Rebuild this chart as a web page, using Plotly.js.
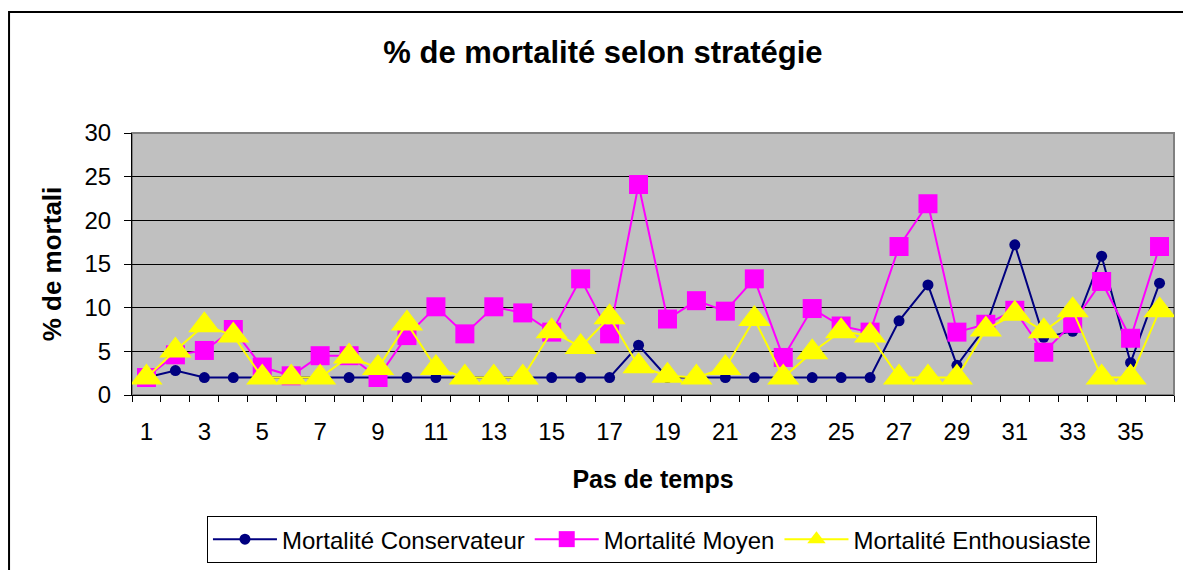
<!DOCTYPE html>
<html>
<head>
<meta charset="utf-8">
<script src="https://cdn.plot.ly/plotly-3.0.1.min.js"></script>
<style>html,body{margin:0;padding:0;background:#fff;}#chart{width:1183px;height:570px;}</style>
</head>
<body>
<div id="chart"></div>
<script>
var steps = [1,2,3,4,5,6,7,8,9,10,11,12,13,14,15,16,17,18,19,20,21,22,23,24,25,26,27,28,29,30,31,32,33,34,35,36];
var conservateur = [2,2.8,2,2,2,2,2,2,2,2,2,2,2,2,2,2,2,5.7,2,2,2,2,2,2,2,2,8.5,12.6,3.4,7.8,17.2,6.6,7.3,15.9,3.7,12.8];
var moyen = [2,4.6,5.1,7.5,3.2,2.2,4.5,4.5,2,6.8,10.1,7,10.1,9.4,7.2,13.3,7,24.1,8.7,10.8,9.6,13.3,4.3,9.9,7.9,7.2,17,21.9,7.2,8.1,9.7,4.9,8.2,13,6.5,17];
var enthousiaste = [2,5.1,8,6.8,2,2,2,4.4,3.1,8.2,3.1,2,2,2,7.3,5.5,8.9,3.3,2.2,2,3.1,8.7,2,4.9,7.3,6.8,2,2,2,7.5,9.3,7.3,9.7,2,2,9.7];
var xTickVals = [1,3,5,7,9,11,13,15,17,19,21,23,25,27,29,31,33,35];
var xTickText = ['1','3','5','7','9','11','13','15','17','19','21','23','25','27','29','31','33','35'];
var yTickVals = [0,5,10,15,20,25,30];
var seriesNames = ['Mortalité Conservateur','Mortalité Moyen','Mortalité Enthousiaste'];

var FONT = 'Arial, "Liberation Sans", sans-serif';

var traces = [
  {x: steps, y: conservateur, name: seriesNames[0], type: 'scatter', mode: 'lines+markers',
   line: {color: '#000080', width: 2}, marker: {symbol: 'circle', size: 11, color: '#000080'}},
  {x: steps, y: moyen, name: seriesNames[1], type: 'scatter', mode: 'lines+markers',
   line: {color: '#FF00FF', width: 2}, marker: {symbol: 'square', size: 19, color: '#FF00FF'}},
  {x: steps, y: enthousiaste, name: seriesNames[2], type: 'scatter', mode: 'lines+markers',
   line: {color: '#FFFF00', width: 2}, marker: {symbol: 'triangle-up', size: 28, color: '#FFFF00'}}
];

var layout = {
  width: 1183, height: 570,
  margin: {l: 132, r: 9, t: 133, b: 175, pad: 0, autoexpand: false},
  paper_bgcolor: '#ffffff',
  plot_bgcolor: '#C0C0C0',
  font: {family: FONT, color: '#000', size: 24},
  showlegend: true,
  title: {text: '% de mortalité selon stratégie', font: {family: FONT, size: 31, color: '#000', weight: 'bold'},
          x: 0.452, xref: 'paper', xanchor: 'center', y: 0.908, yanchor: 'middle'},
  xaxis: {
    range: [0.5, 36.5], tickmode: 'array', tickvals: xTickVals, ticktext: xTickText,
    ticks: '', showgrid: false, zeroline: false, automargin: false,
    showline: true, linecolor: '#000', linewidth: 1,
    tickfont: {family: FONT, size: 24, color: '#000'},
    ticklabelstandoff: 15,
    minor: {tickmode: 'linear', tick0: 0.5, dtick: 1, ticks: 'outside', ticklen: 6, tickcolor: '#000', tickwidth: 1, showgrid: false},
    title: {text: 'Pas de temps', font: {family: FONT, size: 25, color: '#000', weight: 'bold'}, standoff: 26},
    fixedrange: true
  },
  yaxis: {
    range: [0, 30], tickmode: 'array', tickvals: yTickVals,
    ticks: 'outside', ticklen: 7, tickcolor: '#000', tickwidth: 1,
    showgrid: true, gridcolor: '#000', gridwidth: 1, zeroline: false, automargin: false,
    showline: true, linecolor: '#000', linewidth: 1,
    tickfont: {family: FONT, size: 24, color: '#000'},
    ticklabelstandoff: 8,
    title: {text: '% de mortali', font: {family: FONT, size: 26, color: '#000', weight: 'bold'}, standoff: 15},
    fixedrange: true
  },
  legend: {
    orientation: 'h', x: 0.499, xanchor: 'center', y: -0.462, yanchor: 'top',
    bgcolor: '#fff', bordercolor: '#000', borderwidth: 1,
    font: {family: FONT, size: 24, color: '#000'},
    itemwidth: 64, tracegroupgap: 0
  },
  shapes: [
    {type: 'rect', xref: 'paper', yref: 'paper', x0: 0, x1: 1, y0: 0, y1: 1,
     line: {color: '#808080', width: 2}, layer: 'below'},
    {type: 'rect', xref: 'paper', yref: 'paper', x0: -0.118, x1: 1.2, y0: -0.9, y1: 1.4618,
     line: {color: '#000', width: 2}, fillcolor: 'rgba(0,0,0,0)', layer: 'below'}
  ]
};

Plotly.newPlot('chart', traces, layout, {displayModeBar: false, staticPlot: true});
</script>
</body>
</html>
